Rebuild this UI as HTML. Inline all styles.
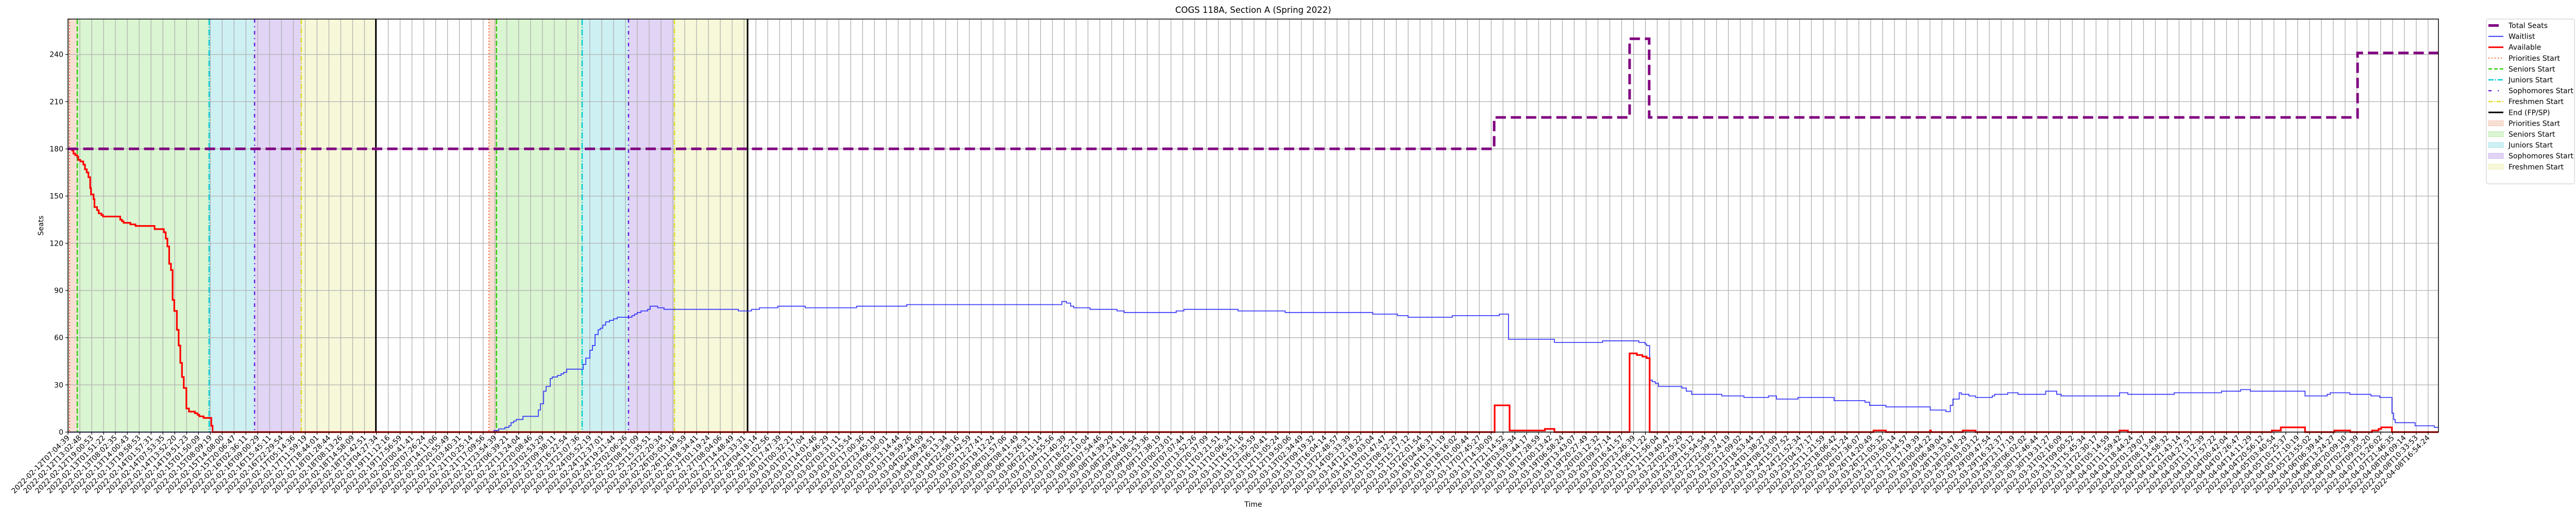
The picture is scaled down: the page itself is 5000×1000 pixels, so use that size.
<!DOCTYPE html>
<html><head><meta charset="utf-8"><style>
html,body{margin:0;padding:0;background:#fff;}
svg{display:block;font-family:"DejaVu Sans","Liberation Sans",sans-serif;}
</style></head><body>
<svg id="chart" width="5000" height="1000" viewBox="0 0 5000 1000" xmlns="http://www.w3.org/2000/svg">
<rect width="5000" height="1000" fill="#fff"/>
<g id="shades"></g><g id="grid"></g><g id="vlines"></g><g id="series"></g><g id="axes"></g><g id="legend"></g>
</svg>
<script>
// ---- data (x in tick-index units) ----
const totalX = [0, 120.25, 131.67, 133.32, 193.05];
const totalV = [180, 200, 250, 200, 241];
const availX = [0,0.35,0.46,0.61,0.78,0.86,1.04,1.29,1.43,1.58,1.72,1.87,1.94,2.16,2.23,2.45,2.59,2.81,2.95,4.40,4.55,4.69,5.26,5.69,7.30,8.08,8.24,8.38,8.53,8.68,8.82,8.96,9.18,9.33,9.47,9.61,9.76,9.98,10.20,10.70,10.92,11.07,11.43,12.08,12.19,120.29,121.55,124.53,125.33,131.67,132.28,132.75,133.10,133.36,152.24,153.28,157.0,157.08,159.76,160.84,172.98,173.68,185.82,186.58,188.62,191.1,192.43,194.27,194.82,195.04,195.95];
const availV = [180,179,177,176,175,173,172,170,167,165,162,155,151,148,143,141,139,138,137,135,134,133,132,131,129,127,123,118,107,103,84,77,65,55,44,35,28,15,13,12,11,10,9,4,0,17,1,2,0,50,49,48,47,0,1,0,1,0,1,0,1,0,1,3,0,1,0,1,2,3,0];
const waitX = [0,35.91,36.31,36.84,37.18,37.35,37.58,37.79,38.36,39.66,39.83,40.10,40.31,40.66,40.83,41.27,41.57,41.79,42.05,43.44,43.66,44.0,44.22,44.44,44.70,44.87,45.09,45.33,45.66,46.0,46.31,47.55,47.77,47.99,48.31,48.87,49.09,49.72,50.25,56.52,57.63,58.30,59.85,62.16,66.49,70.72,83.80,84.19,84.54,84.80,86.17,88.45,89.05,93.44,94.09,98.65,102.63,110.01,112.1,112.99,116.72,120.68,121.46,125.33,129.39,132.45,132.97,133.10,133.36,133.58,133.84,134.10,136.08,136.45,136.90,139.44,141.31,143.38,144.05,145.87,148.91,151.52,151.90,153.28,157.02,158.34,158.71,158.93,159.46,159.64,160.28,160.84,162.25,162.45,163.55,164.42,166.75,167.68,168.06,172.98,173.68,177.59,181.58,183.19,184.01,188.62,190.49,190.75,192.4,194.18,194.92,195.95,196.09,196.22,197.90,199.52];
const waitV = [0,1,2,3,4,6,7,8,10,14,18,26,29,34,35,36,37,38,40,43,47,52,55,62,65,66,68,70,71,72,73,74,75,76,77,78,80,79,78,77,78,79,80,79,80,81,83,82,80,79,78,77,76,77,78,77,76,75,74,73,74,75,59,57,58,57,56,55,33,32,31,29,28,26,24,23,22,23,21,22,20,19,17,16,14,13,17,21,25,24,23,22,23,24,25,24,26,24,23,25,24,25,26,27,26,23,24,25,24,23,22,12,8,6,4,3];
const phaseNames = ['Priorities Start','Seniors Start','Juniors Start','Sophomores Start','Freshmen Start','End (FP/SP)'];
const cycle1 = [0.13, 0.78, 11.90, 15.73, 19.67, 25.96];
const cycle2 = [35.49, 36.13, 43.35, 47.26, 51.13, 57.30];
const yTicks = [0,30,60,90,120,150,180,210,240];
const tickStart = ['2022-02-12T07:04:39','2022-02-12T13:02:48','2022-02-12T19:00:53','2022-02-13T01:51:22','2022-02-13T08:02:35','2022-02-13T14:00:43','2022-02-13T19:58:53','2022-02-14T01:57:31','2022-02-14T07:53:35','2022-02-14T13:52:20','2022-02-14T19:51:23','2022-02-15T01:50:09','2022-02-15T08:09:19','2022-02-15T14:08:00','2022-02-15T20:06:47','2022-02-16T02:36:11','2022-02-16T09:00:29'];
const tickEnd = ['2022-04-06T20:09:10','2022-04-07T02:29:39','2022-04-07T09:05:20','2022-04-07T15:26:02','2022-04-07T21:46:35','2022-04-08T04:09:14','2022-04-08T10:33:53','2022-04-08T16:54:24'];
const tickCount = 200;

// ---- layout ----
const L=132, R=4733, T=37, B=839, XSTEP=23.02, YMAX=262.5;
const xS = u => L + u*XSTEP;
const yS = v => B - v*(B-T)/YMAX;
const NS='http://www.w3.org/2000/svg';
function mk(tag, attrs, parent){const e=document.createElementNS(NS,tag);for(const k in attrs)e.setAttribute(k,attrs[k]);parent.appendChild(e);return e;}
const g = id => document.getElementById(id);

// tick labels
function pad(n){return String(n).padStart(2,'0');}
function fmt(d){return d.getUTCFullYear()+'-'+pad(d.getUTCMonth()+1)+'-'+pad(d.getUTCDate())+'T'+pad(d.getUTCHours())+':'+pad(d.getUTCMinutes())+':'+pad(d.getUTCSeconds());}
const tickLabels=[];
const tA=Date.parse(tickStart[tickStart.length-1]+'Z'), tB=Date.parse(tickEnd[0]+'Z');
const i0=tickStart.length-1, i1=tickCount-tickEnd.length;
for(let i=0;i<tickCount;i++){
  if(i<tickStart.length) tickLabels.push(tickStart[i]);
  else if(i>=i1) tickLabels.push(tickEnd[i-i1]);
  else tickLabels.push(fmt(new Date(tA+(tB-tA)*(i-i0)/(i1-i0))));
}

// shades
const shadeCol=['#f7dfd3','#daf5d1','#cdf0f3','#e1d4f5','#f6f8d9'];
const shadeName=['priorities','seniors','juniors','sophomores','freshmen'];
[cycle1,cycle2].forEach((c,ci)=>{
  for(let k=0;k<5;k++){
    const x0=Math.max(L, ci===0&&k===0?L:xS(c[k])), x1=xS(c[k+1]);
    const r=mk('rect',{x:x0,y:T,width:x1-x0,height:B-T,fill:shadeCol[k]},g('shades'));
    
    
  }
});
// grid
for(let i=0;i<tickCount;i++){
  const x=xS(i);
  const l=mk('line',{x1:x,x2:x,y1:T,y2:B,stroke:'#b0b0b0','stroke-width':1.3},g('grid'));
  
  
}
yTicks.forEach(v=>{
  const l=mk('line',{x1:L,x2:R,y1:yS(v),y2:yS(v),stroke:'#b0b0b0','stroke-width':1.3},g('grid'));
  
  
});
// vertical event lines
const vStyle=[
 {c:'#ff5a1f',d:'2 4',w:2},{c:'#33cc11',d:'10 4',w:2.5},{c:'#00cbd4',d:'12 3 2 3',w:2.5},
 {c:'#6622dd',d:'7 7 2 7',w:2.5},{c:'#dddd22',d:'10 3 2 3',w:2.5},{c:'#000',d:'none',w:3}];
[cycle1,cycle2].forEach((c,ci)=>{
  c.forEach((u,k)=>{
    const s=vStyle[k];
    const l=mk('line',{x1:xS(u),x2:xS(u),y1:T,y2:B,stroke:s.c,'stroke-width':s.w,'stroke-dasharray':s.d},g('vlines'));
    
    
  });
});
// series
function stepPath(xs,vs){
  let d='M'+xS(xs[0])+','+yS(vs[0]);
  for(let i=1;i<xs.length;i++){d+='H'+xS(xs[i])+'V'+yS(vs[i]);}
  d+='H'+R; return d;
}
const pw=mk('path',{d:stepPath(waitX,waitV),fill:'none',stroke:'#2020ff','stroke-width':1.8,'stroke-opacity':0.85},g('series'));


const pa=mk('path',{d:stepPath(availX,availV),fill:'none',stroke:'#ff0000','stroke-width':3.2},g('series'));


const pt=mk('path',{d:stepPath(totalX,totalV),fill:'none',stroke:'#800080','stroke-width':5,'stroke-dasharray':'20 9.5'},g('series'));



// axes
const ax=g('axes');
const fr=mk('rect',{x:L,y:T,width:R-L,height:B-T,fill:'none',stroke:'#000','stroke-width':1.5},ax);


yTicks.forEach(v=>{
  mk('line',{x1:L-5,x2:L,y1:yS(v),y2:yS(v),stroke:'#000','stroke-width':1.2},ax);
  const t=mk('text',{x:L-9,y:yS(v)+5,'text-anchor':'end','font-size':14,fill:'#000'},ax);
  t.textContent=v;
  
  
});
tickLabels.forEach((lab,i)=>{
  const x=xS(i);
  mk('line',{x1:x,x2:x,y1:B,y2:B+5,stroke:'#000','stroke-width':1.2},ax);
  const t=mk('text',{x:x+4,y:B+12,'text-anchor':'end','font-size':14,fill:'#000',transform:'rotate(-45 '+(x+4)+' '+(B+12)+')'},ax);
  t.textContent=lab;
  
  
});
const title=mk('text',{x:(L+R)/2,y:25,'text-anchor':'middle','font-size':16.5,fill:'#000'},ax);
title.textContent='COGS 118A, Section A (Spring 2022)';


const xl=mk('text',{x:(L+R)/2,y:984,'text-anchor':'middle','font-size':14,fill:'#000'},ax);
xl.textContent='Time';


const yl=mk('text',{x:84,y:(T+B)/2,'text-anchor':'middle','font-size':14,fill:'#000',transform:'rotate(-90 84 '+(T+B)/2+')'},ax);
yl.textContent='Seats';



// legend
const lg=g('legend');
const box=mk('rect',{x:4826,y:37,width:171,height:320,fill:'#fff',stroke:'#d0d0d0','stroke-width':1.2,rx:3},lg);


const entries=[
 {n:'Total Seats',t:'line',c:'#800080',w:5,d:'20 9'},
 {n:'Waitlist',t:'line',c:'#2020ff',w:1.8,d:'none'},
 {n:'Available',t:'line',c:'#ff0000',w:3,d:'none'},
 {n:'Priorities Start',t:'line',c:vStyle[0].c,w:2,d:'2 4'},
 {n:'Seniors Start',t:'line',c:vStyle[1].c,w:2.5,d:'7 4'},
 {n:'Juniors Start',t:'line',c:vStyle[2].c,w:2.5,d:'10 3 2 3'},
 {n:'Sophomores Start',t:'line',c:vStyle[3].c,w:2.5,d:'6 12 2 12'},
 {n:'Freshmen Start',t:'line',c:vStyle[4].c,w:2.5,d:'8 3 2 3'},
 {n:'End (FP/SP)',t:'line',c:'#000',w:3,d:'none'},
 {n:'Priorities Start',t:'patch',c:shadeCol[0],s:'#f2c8b6'},
 {n:'Seniors Start',t:'patch',c:shadeCol[1],s:'#c0ecb3'},
 {n:'Juniors Start',t:'patch',c:shadeCol[2],s:'#b0e6ea'},
 {n:'Sophomores Start',t:'patch',c:shadeCol[3],s:'#cdb8ef'},
 {n:'Freshmen Start',t:'patch',c:shadeCol[4],s:'#eef0b8'}];
entries.forEach((e,i)=>{
  const y=49.5+i*21.1;
  const gr=mk('g',{},lg);
  
  
  if(e.t==='line') mk('line',{x1:4830,x2:4859,y1:y,y2:y,stroke:e.c,'stroke-width':e.w,'stroke-dasharray':e.d},gr);
  else mk('rect',{x:4830,y:y-5,width:29,height:10,fill:e.c,stroke:e.s,'stroke-width':1},gr);
  const t=mk('text',{x:4869,y:y+5,'font-size':14,fill:'#000'},gr);
  t.textContent=e.n;
});
</script>
</body></html>
